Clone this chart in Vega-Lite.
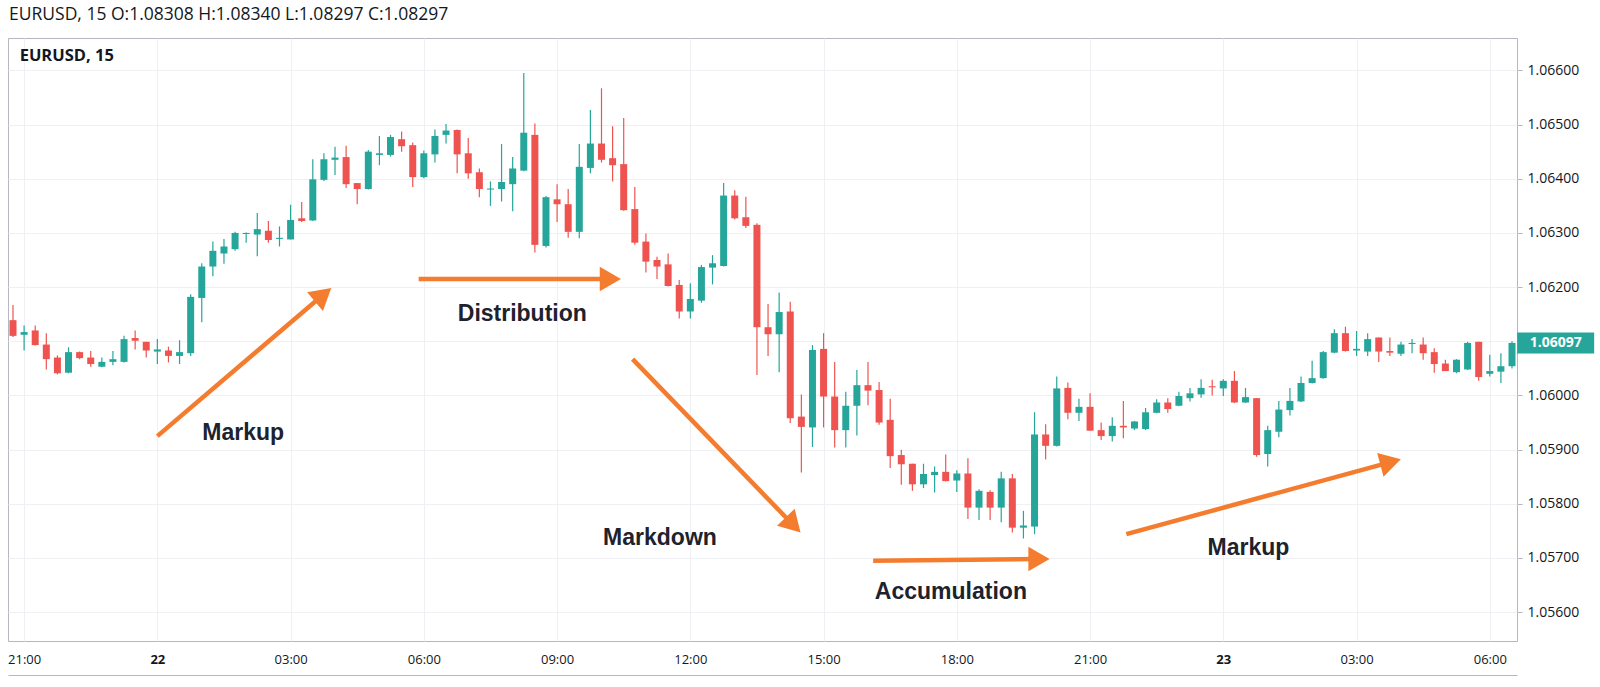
{
  "$schema": "https://vega.github.io/schema/vega-lite/v6.json",
  "width": 1509,
  "height": 603,
  "autosize": {"type": "none"},
  "padding": {"left": 8, "top": 38, "right": 83, "bottom": 46},
  "background": "white",
  "title": {"text": "EURUSD, 15 O:1.08308 H:1.08340 L:1.08297 C:1.08297", "anchor": "start", "frame": "group", "font": "Open Sans", "fontSize": 17.5, "fontWeight": "normal", "color": "#131722", "offset": -3, "baseline": "bottom", "dx": 1},
  "datasets": {
    "candles": [
      {"t":"2016-11-21T20:45:00Z","o":1.06139,"h":1.06167,"l":1.06108,"c":1.06110},
      {"t":"2016-11-21T21:00:00Z","o":1.06112,"h":1.06129,"l":1.06083,"c":1.06117},
      {"t":"2016-11-21T21:15:00Z","o":1.06120,"h":1.06129,"l":1.06092,"c":1.06093},
      {"t":"2016-11-21T21:30:00Z","o":1.06094,"h":1.06115,"l":1.06048,"c":1.06067},
      {"t":"2016-11-21T21:45:00Z","o":1.06070,"h":1.06074,"l":1.06039,"c":1.06041},
      {"t":"2016-11-21T22:00:00Z","o":1.06042,"h":1.06089,"l":1.06041,"c":1.06080},
      {"t":"2016-11-21T22:15:00Z","o":1.06080,"h":1.06081,"l":1.06067,"c":1.06069},
      {"t":"2016-11-21T22:30:00Z","o":1.06070,"h":1.06082,"l":1.06053,"c":1.06058},
      {"t":"2016-11-21T22:45:00Z","o":1.06053,"h":1.06070,"l":1.06052,"c":1.06062},
      {"t":"2016-11-21T23:00:00Z","o":1.06062,"h":1.06082,"l":1.06056,"c":1.06067},
      {"t":"2016-11-21T23:15:00Z","o":1.06062,"h":1.06110,"l":1.06061,"c":1.06104},
      {"t":"2016-11-21T23:30:00Z","o":1.06106,"h":1.06120,"l":1.06085,"c":1.06101},
      {"t":"2016-11-21T23:45:00Z","o":1.06099,"h":1.06099,"l":1.06070,"c":1.06083},
      {"t":"2016-11-22T00:00:00Z","o":1.06081,"h":1.06104,"l":1.06058,"c":1.06085},
      {"t":"2016-11-22T00:15:00Z","o":1.06083,"h":1.06090,"l":1.06061,"c":1.06073},
      {"t":"2016-11-22T00:30:00Z","o":1.06073,"h":1.06102,"l":1.06058,"c":1.06080},
      {"t":"2016-11-22T00:45:00Z","o":1.06078,"h":1.06187,"l":1.06073,"c":1.06182},
      {"t":"2016-11-22T01:00:00Z","o":1.06180,"h":1.06244,"l":1.06135,"c":1.06238},
      {"t":"2016-11-22T01:15:00Z","o":1.06238,"h":1.06284,"l":1.06220,"c":1.06267},
      {"t":"2016-11-22T01:30:00Z","o":1.06262,"h":1.06289,"l":1.06243,"c":1.06275},
      {"t":"2016-11-22T01:45:00Z","o":1.06270,"h":1.06302,"l":1.06267,"c":1.06300},
      {"t":"2016-11-22T02:00:00Z","o":1.06298,"h":1.06301,"l":1.06282,"c":1.06300},
      {"t":"2016-11-22T02:15:00Z","o":1.06297,"h":1.06337,"l":1.06257,"c":1.06307},
      {"t":"2016-11-22T02:30:00Z","o":1.06304,"h":1.06322,"l":1.06282,"c":1.06287},
      {"t":"2016-11-22T02:45:00Z","o":1.06289,"h":1.06312,"l":1.06275,"c":1.06291},
      {"t":"2016-11-22T03:00:00Z","o":1.06288,"h":1.06352,"l":1.06288,"c":1.06324},
      {"t":"2016-11-22T03:15:00Z","o":1.06327,"h":1.06357,"l":1.06320,"c":1.06322},
      {"t":"2016-11-22T03:30:00Z","o":1.06323,"h":1.06436,"l":1.06322,"c":1.06399},
      {"t":"2016-11-22T03:45:00Z","o":1.06398,"h":1.06447,"l":1.06396,"c":1.06436},
      {"t":"2016-11-22T04:00:00Z","o":1.06435,"h":1.06459,"l":1.06407,"c":1.06439},
      {"t":"2016-11-22T04:15:00Z","o":1.06440,"h":1.06461,"l":1.06383,"c":1.06390},
      {"t":"2016-11-22T04:30:00Z","o":1.06392,"h":1.06392,"l":1.06353,"c":1.06381},
      {"t":"2016-11-22T04:45:00Z","o":1.06381,"h":1.06453,"l":1.06380,"c":1.06450},
      {"t":"2016-11-22T05:00:00Z","o":1.06444,"h":1.06479,"l":1.06425,"c":1.06447},
      {"t":"2016-11-22T05:15:00Z","o":1.06444,"h":1.06481,"l":1.06441,"c":1.06477},
      {"t":"2016-11-22T05:30:00Z","o":1.06473,"h":1.06487,"l":1.06450,"c":1.06460},
      {"t":"2016-11-22T05:45:00Z","o":1.06462,"h":1.06467,"l":1.06385,"c":1.06403},
      {"t":"2016-11-22T06:00:00Z","o":1.06403,"h":1.06452,"l":1.06401,"c":1.06447},
      {"t":"2016-11-22T06:15:00Z","o":1.06445,"h":1.06491,"l":1.06430,"c":1.06479},
      {"t":"2016-11-22T06:30:00Z","o":1.06481,"h":1.06501,"l":1.06465,"c":1.06489},
      {"t":"2016-11-22T06:45:00Z","o":1.06490,"h":1.06491,"l":1.06410,"c":1.06445},
      {"t":"2016-11-22T07:00:00Z","o":1.06447,"h":1.06475,"l":1.06400,"c":1.06410},
      {"t":"2016-11-22T07:15:00Z","o":1.06412,"h":1.06419,"l":1.06366,"c":1.06381},
      {"t":"2016-11-22T07:30:00Z","o":1.06380,"h":1.06395,"l":1.06350,"c":1.06382},
      {"t":"2016-11-22T07:45:00Z","o":1.06381,"h":1.06464,"l":1.06358,"c":1.06394},
      {"t":"2016-11-22T08:00:00Z","o":1.06390,"h":1.06440,"l":1.06340,"c":1.06419},
      {"t":"2016-11-22T08:15:00Z","o":1.06415,"h":1.06595,"l":1.06414,"c":1.06485},
      {"t":"2016-11-22T08:30:00Z","o":1.06481,"h":1.06502,"l":1.06264,"c":1.06278},
      {"t":"2016-11-22T08:45:00Z","o":1.06276,"h":1.06368,"l":1.06273,"c":1.06366},
      {"t":"2016-11-22T09:00:00Z","o":1.06362,"h":1.06390,"l":1.06320,"c":1.06353},
      {"t":"2016-11-22T09:15:00Z","o":1.06353,"h":1.06381,"l":1.06291,"c":1.06302},
      {"t":"2016-11-22T09:30:00Z","o":1.06302,"h":1.06464,"l":1.06290,"c":1.06422},
      {"t":"2016-11-22T09:45:00Z","o":1.06420,"h":1.06527,"l":1.06410,"c":1.06465},
      {"t":"2016-11-22T10:00:00Z","o":1.06465,"h":1.06567,"l":1.06430,"c":1.06435},
      {"t":"2016-11-22T10:15:00Z","o":1.06438,"h":1.06497,"l":1.06395,"c":1.06425},
      {"t":"2016-11-22T10:30:00Z","o":1.06427,"h":1.06512,"l":1.06341,"c":1.06342},
      {"t":"2016-11-22T10:45:00Z","o":1.06344,"h":1.06385,"l":1.06278,"c":1.06282},
      {"t":"2016-11-22T11:00:00Z","o":1.06284,"h":1.06299,"l":1.06227,"c":1.06247},
      {"t":"2016-11-22T11:15:00Z","o":1.06250,"h":1.06256,"l":1.06215,"c":1.06238},
      {"t":"2016-11-22T11:30:00Z","o":1.06242,"h":1.06262,"l":1.06201,"c":1.06202},
      {"t":"2016-11-22T11:45:00Z","o":1.06204,"h":1.06213,"l":1.06142,"c":1.06155},
      {"t":"2016-11-22T12:00:00Z","o":1.06155,"h":1.06207,"l":1.06142,"c":1.06178},
      {"t":"2016-11-22T12:15:00Z","o":1.06175,"h":1.06241,"l":1.06171,"c":1.06237},
      {"t":"2016-11-22T12:30:00Z","o":1.06236,"h":1.06259,"l":1.06205,"c":1.06244},
      {"t":"2016-11-22T12:45:00Z","o":1.06239,"h":1.06392,"l":1.06238,"c":1.06369},
      {"t":"2016-11-22T13:00:00Z","o":1.06369,"h":1.06379,"l":1.06325,"c":1.06327},
      {"t":"2016-11-22T13:15:00Z","o":1.06329,"h":1.06367,"l":1.06309,"c":1.06313},
      {"t":"2016-11-22T13:30:00Z","o":1.06315,"h":1.06318,"l":1.06038,"c":1.06126},
      {"t":"2016-11-22T13:45:00Z","o":1.06126,"h":1.06169,"l":1.06073,"c":1.06113},
      {"t":"2016-11-22T14:00:00Z","o":1.06113,"h":1.06190,"l":1.06043,"c":1.06154},
      {"t":"2016-11-22T14:15:00Z","o":1.06155,"h":1.06173,"l":1.05949,"c":1.05958},
      {"t":"2016-11-22T14:30:00Z","o":1.05961,"h":1.06002,"l":1.05858,"c":1.05942},
      {"t":"2016-11-22T14:45:00Z","o":1.05941,"h":1.06093,"l":1.05905,"c":1.06084},
      {"t":"2016-11-22T15:00:00Z","o":1.06086,"h":1.06115,"l":1.05941,"c":1.05998},
      {"t":"2016-11-22T15:15:00Z","o":1.05998,"h":1.06062,"l":1.05904,"c":1.05936},
      {"t":"2016-11-22T15:30:00Z","o":1.05936,"h":1.06007,"l":1.05904,"c":1.05981},
      {"t":"2016-11-22T15:45:00Z","o":1.05981,"h":1.06047,"l":1.05926,"c":1.06019},
      {"t":"2016-11-22T16:00:00Z","o":1.06019,"h":1.06062,"l":1.05982,"c":1.06009},
      {"t":"2016-11-22T16:15:00Z","o":1.06010,"h":1.06025,"l":1.05946,"c":1.05950},
      {"t":"2016-11-22T16:30:00Z","o":1.05955,"h":1.05994,"l":1.05866,"c":1.05888},
      {"t":"2016-11-22T16:45:00Z","o":1.05890,"h":1.05900,"l":1.05835,"c":1.05873},
      {"t":"2016-11-22T17:00:00Z","o":1.05874,"h":1.05874,"l":1.05824,"c":1.05836},
      {"t":"2016-11-22T17:15:00Z","o":1.05836,"h":1.05874,"l":1.05829,"c":1.05855},
      {"t":"2016-11-22T17:30:00Z","o":1.05853,"h":1.05869,"l":1.05821,"c":1.05859},
      {"t":"2016-11-22T17:45:00Z","o":1.05859,"h":1.05891,"l":1.05841,"c":1.05842},
      {"t":"2016-11-22T18:00:00Z","o":1.05843,"h":1.05862,"l":1.05822,"c":1.05856},
      {"t":"2016-11-22T18:15:00Z","o":1.05856,"h":1.05884,"l":1.05772,"c":1.05793},
      {"t":"2016-11-22T18:30:00Z","o":1.05793,"h":1.05827,"l":1.05770,"c":1.05824},
      {"t":"2016-11-22T18:45:00Z","o":1.05822,"h":1.05825,"l":1.05770,"c":1.05793},
      {"t":"2016-11-22T19:00:00Z","o":1.05793,"h":1.05859,"l":1.05766,"c":1.05847},
      {"t":"2016-11-22T19:15:00Z","o":1.05847,"h":1.05855,"l":1.05747,"c":1.05756},
      {"t":"2016-11-22T19:30:00Z","o":1.05756,"h":1.05787,"l":1.05736,"c":1.05760},
      {"t":"2016-11-22T19:45:00Z","o":1.05758,"h":1.05969,"l":1.05744,"c":1.05928},
      {"t":"2016-11-22T20:00:00Z","o":1.05928,"h":1.05947,"l":1.05882,"c":1.05907},
      {"t":"2016-11-22T20:15:00Z","o":1.05907,"h":1.06035,"l":1.05906,"c":1.06013},
      {"t":"2016-11-22T20:30:00Z","o":1.06014,"h":1.06024,"l":1.05956,"c":1.05968},
      {"t":"2016-11-22T20:45:00Z","o":1.05968,"h":1.05994,"l":1.05953,"c":1.05979},
      {"t":"2016-11-22T21:00:00Z","o":1.05979,"h":1.06004,"l":1.05935,"c":1.05935},
      {"t":"2016-11-22T21:15:00Z","o":1.05936,"h":1.05950,"l":1.05918,"c":1.05925},
      {"t":"2016-11-22T21:30:00Z","o":1.05925,"h":1.05960,"l":1.05915,"c":1.05944},
      {"t":"2016-11-22T21:45:00Z","o":1.05944,"h":1.05990,"l":1.05921,"c":1.05941},
      {"t":"2016-11-22T22:00:00Z","o":1.05939,"h":1.05953,"l":1.05936,"c":1.05952},
      {"t":"2016-11-22T22:15:00Z","o":1.05938,"h":1.05977,"l":1.05936,"c":1.05969},
      {"t":"2016-11-22T22:30:00Z","o":1.05968,"h":1.05993,"l":1.05967,"c":1.05987},
      {"t":"2016-11-22T22:45:00Z","o":1.05987,"h":1.05995,"l":1.05968,"c":1.05975},
      {"t":"2016-11-22T23:00:00Z","o":1.05981,"h":1.06007,"l":1.05980,"c":1.05999},
      {"t":"2016-11-22T23:15:00Z","o":1.05995,"h":1.06014,"l":1.05989,"c":1.06004},
      {"t":"2016-11-22T23:30:00Z","o":1.06002,"h":1.06030,"l":1.05996,"c":1.06014},
      {"t":"2016-11-22T23:45:00Z","o":1.06017,"h":1.06029,"l":1.06000,"c":1.06015},
      {"t":"2016-11-23T00:00:00Z","o":1.06013,"h":1.06030,"l":1.05999,"c":1.06027},
      {"t":"2016-11-23T00:15:00Z","o":1.06027,"h":1.06045,"l":1.05986,"c":1.05987},
      {"t":"2016-11-23T00:30:00Z","o":1.05987,"h":1.06014,"l":1.05986,"c":1.05997},
      {"t":"2016-11-23T00:45:00Z","o":1.05995,"h":1.05995,"l":1.05887,"c":1.05890},
      {"t":"2016-11-23T01:00:00Z","o":1.05892,"h":1.05944,"l":1.05869,"c":1.05936},
      {"t":"2016-11-23T01:15:00Z","o":1.05933,"h":1.05990,"l":1.05923,"c":1.05974},
      {"t":"2016-11-23T01:30:00Z","o":1.05973,"h":1.06014,"l":1.05963,"c":1.05990},
      {"t":"2016-11-23T01:45:00Z","o":1.05989,"h":1.06035,"l":1.05988,"c":1.06023},
      {"t":"2016-11-23T02:00:00Z","o":1.06023,"h":1.06064,"l":1.06022,"c":1.06032},
      {"t":"2016-11-23T02:15:00Z","o":1.06032,"h":1.06082,"l":1.06031,"c":1.06080},
      {"t":"2016-11-23T02:30:00Z","o":1.06079,"h":1.06122,"l":1.06078,"c":1.06115},
      {"t":"2016-11-23T02:45:00Z","o":1.06115,"h":1.06127,"l":1.06081,"c":1.06082},
      {"t":"2016-11-23T03:00:00Z","o":1.06083,"h":1.06119,"l":1.06073,"c":1.06086},
      {"t":"2016-11-23T03:15:00Z","o":1.06081,"h":1.06115,"l":1.06073,"c":1.06104},
      {"t":"2016-11-23T03:30:00Z","o":1.06107,"h":1.06107,"l":1.06062,"c":1.06081},
      {"t":"2016-11-23T03:45:00Z","o":1.06082,"h":1.06107,"l":1.06073,"c":1.06079},
      {"t":"2016-11-23T04:00:00Z","o":1.06077,"h":1.06099,"l":1.06073,"c":1.06094},
      {"t":"2016-11-23T04:15:00Z","o":1.06095,"h":1.06104,"l":1.06078,"c":1.06097},
      {"t":"2016-11-23T04:30:00Z","o":1.06094,"h":1.06107,"l":1.06066,"c":1.06078},
      {"t":"2016-11-23T04:45:00Z","o":1.06080,"h":1.06087,"l":1.06042,"c":1.06058},
      {"t":"2016-11-23T05:00:00Z","o":1.06059,"h":1.06066,"l":1.06045,"c":1.06045},
      {"t":"2016-11-23T05:15:00Z","o":1.06043,"h":1.06067,"l":1.06041,"c":1.06066},
      {"t":"2016-11-23T05:30:00Z","o":1.06048,"h":1.06099,"l":1.06047,"c":1.06097},
      {"t":"2016-11-23T05:45:00Z","o":1.06099,"h":1.06099,"l":1.06027,"c":1.06034},
      {"t":"2016-11-23T06:00:00Z","o":1.06040,"h":1.06075,"l":1.06035,"c":1.06045},
      {"t":"2016-11-23T06:15:00Z","o":1.06044,"h":1.06078,"l":1.06023,"c":1.06054},
      {"t":"2016-11-23T06:30:00Z","o":1.06054,"h":1.06100,"l":1.06050,"c":1.06097}
    ],
    "arrows": [
      {"id":1,"t":"2016-11-22T00:00:00Z","p":1.05925},{"id":1,"t":"2016-11-22T03:44:00Z","p":1.06186},
      {"id":2,"t":"2016-11-22T05:53:00Z","p":1.06215},{"id":2,"t":"2016-11-22T10:12:00Z","p":1.06215},
      {"id":3,"t":"2016-11-22T10:42:00Z","p":1.06067},{"id":3,"t":"2016-11-22T14:19:00Z","p":1.05761},
      {"id":4,"t":"2016-11-22T16:07:00Z","p":1.05695},{"id":4,"t":"2016-11-22T19:51:00Z","p":1.05698},
      {"id":5,"t":"2016-11-22T21:49:00Z","p":1.05744},{"id":5,"t":"2016-11-23T03:46:00Z","p":1.05877}
    ],
    "heads": [
      {"id":1,"t":"2016-11-22T03:44:00Z","p":1.06186},
      {"id":2,"t":"2016-11-22T10:12:00Z","p":1.06215},
      {"id":3,"t":"2016-11-22T14:19:00Z","p":1.05761},
      {"id":4,"t":"2016-11-22T19:51:00Z","p":1.05698},
      {"id":5,"t":"2016-11-23T03:46:00Z","p":1.05877}
    ],
    "notes": [
      {"label":"Markup","t":"2016-11-22T01:56:00Z","p":1.05931},
      {"label":"Distribution","t":"2016-11-22T08:13:00Z","p":1.06150},
      {"label":"Markdown","t":"2016-11-22T11:19:00Z","p":1.05737},
      {"label":"Accumulation","t":"2016-11-22T17:52:00Z","p":1.05638},
      {"label":"Markup","t":"2016-11-23T00:34:00Z","p":1.05719}
    ],
    "pane": [{"label":"EURUSD, 15","t":"2016-11-21T20:54:00Z","p":1.06627}],
    "lastprice": [{"label":"1.06097","t":"2016-11-23T07:29:00Z","p":1.06097}]
  },
  "layer": [
    {
      "data": {"name": "candles"},
      "mark": {"type": "rule", "strokeWidth": 1.2, "clip": true},
      "encoding": {
        "x": {"field": "t", "type": "temporal", "title": null,
          "scale": {"type": "utc", "domain": [{"year": 2016, "month": 11, "date": 21, "hours": 20, "minutes": 45, "utc": true}, {"year": 2016, "month": 11, "date": 23, "hours": 6, "minutes": 30, "utc": true}]},
          "axis": {"values": [
              {"year": 2016, "month": 11, "date": 21, "hours": 21, "utc": true},
              {"year": 2016, "month": 11, "date": 22, "hours": 0, "utc": true},
              {"year": 2016, "month": 11, "date": 22, "hours": 3, "utc": true},
              {"year": 2016, "month": 11, "date": 22, "hours": 6, "utc": true},
              {"year": 2016, "month": 11, "date": 22, "hours": 9, "utc": true},
              {"year": 2016, "month": 11, "date": 22, "hours": 12, "utc": true},
              {"year": 2016, "month": 11, "date": 22, "hours": 15, "utc": true},
              {"year": 2016, "month": 11, "date": 22, "hours": 18, "utc": true},
              {"year": 2016, "month": 11, "date": 22, "hours": 21, "utc": true},
              {"year": 2016, "month": 11, "date": 23, "hours": 0, "utc": true},
              {"year": 2016, "month": 11, "date": 23, "hours": 3, "utc": true},
              {"year": 2016, "month": 11, "date": 23, "hours": 6, "utc": true}],
            "labelExpr": "utchours(datum.value) == 0 ? utcFormat(datum.value, '%d') : utcFormat(datum.value, '%H:%M')", "labelFlush": false, "labelOverlap": false, "grid": true, "gridColor": "#eef0f3", "domain": true, "domainColor": "#b5b8bf", "offset": 34, "ticks": false, "tickSize": 0, "labelPadding": -16, "labelBaseline": "middle", "labelFontSize": 13, "labelColor": "#131722", "labelFont": "Open Sans",
            "labelFontWeight": {"condition": {"test": "utchours(datum.value) == 0", "value": "bold"}, "value": "normal"}}},
        "y": {"field": "l", "type": "quantitative", "title": null,
          "scale": {"domain": [1.055468, 1.066598], "zero": false, "nice": false},
          "axis": {"orient": "right", "values": [1.056, 1.057, 1.058, 1.059, 1.06, 1.061, 1.062, 1.063, 1.064, 1.065, 1.066], "labelExpr": "abs(datum.value - 1.061) < 0.00001 ? '' : format(datum.value, '.5f')", "grid": true, "gridColor": "#eef0f3", "domain": false, "tickSize": 5, "tickColor": "#b5b8bf", "labelPadding": 5, "labelFontSize": 14, "labelColor": "#131722", "labelFont": "Open Sans"}},
        "y2": {"field": "h"},
        "color": {"condition": {"test": "datum.c >= datum.o", "value": "#26a69a"}, "value": "#ef5350"}
      }
    },
    {
      "data": {"name": "candles"},
      "mark": {"type": "bar", "width": 7, "clip": true},
      "encoding": {
        "x": {"field": "t", "type": "temporal", "title": null},
        "y": {"field": "o", "type": "quantitative", "title": null},
        "y2": {"field": "c"},
        "color": {"condition": {"test": "datum.c >= datum.o", "value": "#26a69a"}, "value": "#ef5350"}
      }
    },
    {
      "data": {"name": "arrows"},
      "mark": {"type": "line", "color": "#f47c2f", "strokeWidth": 4.5, "strokeCap": "butt"},
      "encoding": {
        "x": {"field": "t", "type": "temporal", "title": null},
        "y": {"field": "p", "type": "quantitative", "title": null},
        "detail": {"field": "id", "type": "nominal"}
      }
    },
    {
      "data": {"name": "heads"},
      "transform": [{"filter": "datum.id == 1"}],
      "mark": {"type": "point", "shape": "triangle-right", "filled": true, "size": 600, "angle": 320, "color": "#f47c2f", "opacity": 1},
      "encoding": {"x": {"field": "t", "type": "temporal", "title": null}, "y": {"field": "p", "type": "quantitative", "title": null}}
    },
    {
      "data": {"name": "heads"},
      "transform": [{"filter": "datum.id == 2 || datum.id == 4"}],
      "mark": {"type": "point", "shape": "triangle-right", "filled": true, "size": 600, "angle": 0, "color": "#f47c2f", "opacity": 1},
      "encoding": {"x": {"field": "t", "type": "temporal", "title": null}, "y": {"field": "p", "type": "quantitative", "title": null}}
    },
    {
      "data": {"name": "heads"},
      "transform": [{"filter": "datum.id == 3"}],
      "mark": {"type": "point", "shape": "triangle-right", "filled": true, "size": 600, "angle": 46, "color": "#f47c2f", "opacity": 1},
      "encoding": {"x": {"field": "t", "type": "temporal", "title": null}, "y": {"field": "p", "type": "quantitative", "title": null}}
    },
    {
      "data": {"name": "heads"},
      "transform": [{"filter": "datum.id == 5"}],
      "mark": {"type": "point", "shape": "triangle-right", "filled": true, "size": 600, "angle": 345, "color": "#f47c2f", "opacity": 1},
      "encoding": {"x": {"field": "t", "type": "temporal", "title": null}, "y": {"field": "p", "type": "quantitative", "title": null}}
    },
    {
      "data": {"name": "notes"},
      "mark": {"type": "text", "font": "Liberation Sans", "fontSize": 23, "fontWeight": "bold", "color": "#1e222d", "align": "center", "baseline": "middle"},
      "encoding": {"x": {"field": "t", "type": "temporal", "title": null}, "y": {"field": "p", "type": "quantitative", "title": null}, "text": {"field": "label", "type": "nominal"}}
    },
    {
      "data": {"name": "pane"},
      "mark": {"type": "text", "font": "Open Sans", "fontSize": 16.5, "fontWeight": "bold", "color": "#131722", "align": "left", "baseline": "middle"},
      "encoding": {"x": {"field": "t", "type": "temporal", "title": null}, "y": {"field": "p", "type": "quantitative", "title": null}, "text": {"field": "label", "type": "nominal"}}
    },
    {
      "data": {"name": "lastprice"},
      "mark": {"type": "point", "shape": "M-1,-0.273L1,-0.273L1,0.273L-1,0.273Z", "filled": true, "size": 5929, "color": "#26a69a", "opacity": 1, "clip": false},
      "encoding": {"x": {"field": "t", "type": "temporal", "title": null}, "y": {"field": "p", "type": "quantitative", "title": null}}
    },
    {
      "data": {"name": "lastprice"},
      "mark": {"type": "text", "font": "Open Sans", "fontSize": 14, "fontWeight": "bold", "color": "white", "align": "center", "baseline": "middle", "clip": false},
      "encoding": {"x": {"field": "t", "type": "temporal", "title": null}, "y": {"field": "p", "type": "quantitative", "title": null}, "text": {"field": "label", "type": "nominal"}}
    }
  ],
  "config": {
    "view": {"stroke": "#b5b8bf", "strokeWidth": 1},
    "font": "Open Sans"
  }
}
